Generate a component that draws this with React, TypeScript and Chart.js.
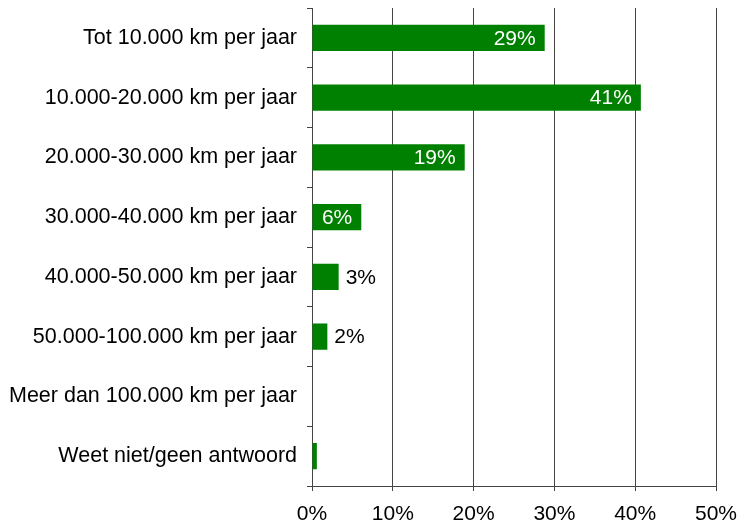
import React, { useEffect, useRef } from "react";
import { Chart, registerables } from "chart.js";

Chart.register(...registerables);

const categories = [
  "Tot 10.000 km per jaar",
  "10.000-20.000 km per jaar",
  "20.000-30.000 km per jaar",
  "30.000-40.000 km per jaar",
  "40.000-50.000 km per jaar",
  "50.000-100.000 km per jaar",
  "Meer dan 100.000 km per jaar",
  "Weet niet/geen antwoord",
];
const values = [28.8, 40.7, 18.9, 6.1, 3.3, 1.9, 0, 0.6];
const valueLabels = ["29%", "41%", "19%", "6%", "3%", "2%", "", ""];
const xTicks = [0, 10, 20, 30, 40, 50];

const FONT = "'Liberation Sans', Arial, Helvetica, sans-serif";

const labelPlugin = {
  id: "valueLabels",
  afterDatasetsDraw(chart: any) {
    const ctx = chart.ctx;
    const meta = chart.getDatasetMeta(0);
    ctx.save();
    ctx.font = `21px ${FONT}`;
    ctx.textBaseline = "middle";
    meta.data.forEach((bar: any, i: number) => {
      const txt = valueLabels[i];
      if (!txt) return;
      const v = values[i];
      if (v >= 5) {
        ctx.fillStyle = "#ffffff";
        ctx.textAlign = "right";
        ctx.fillText(txt, bar.x - 9, bar.y + 1);
      } else {
        ctx.fillStyle = "#000000";
        ctx.textAlign = "left";
        ctx.fillText(txt, bar.x + 7, bar.y + 1);
      }
    });
    ctx.restore();
  },
};

export default function App() {
  const ref = useRef<HTMLCanvasElement | null>(null);
  useEffect(() => {
    if (!ref.current) return;
    const chart = new Chart(ref.current, {
      type: "bar",
      data: {
        labels: categories,
        datasets: [
          {
            data: values,
            backgroundColor: "#008000",
            borderWidth: 0,
            barPercentage: 0.44,
            categoryPercentage: 1,
          },
        ],
      },
      options: {
        indexAxis: "y",
        animation: false,
        responsive: false,
        maintainAspectRatio: false,
        layout: { padding: { top: 8, right: 22, bottom: 0, left: 0 } },
        plugins: {
          legend: { display: false },
          tooltip: { enabled: false },
        },
        scales: {
          x: {
            min: 0,
            max: 50,
            afterBuildTicks: (s: any) => {
              s.ticks = xTicks.map((v) => ({ value: v }));
            },
            afterFit: (s: any) => {
              s.height = 40;
              s.paddingLeft = 0;
              s.paddingRight = 0;
            },
            ticks: {
              callback: (v: any) => v + "%",
              color: "#000",
              font: { family: FONT, size: 21 },
              padding: 11,
              maxRotation: 0,
            },
            grid: {
              color: "#444",
              lineWidth: 1,
              tickLength: 5,
              drawTicks: true,
            },
            border: { color: "#444", width: 1 },
          },
          y: {
            afterFit: (s: any) => {
              s.width = 312;
              s.paddingTop = 0;
              s.paddingBottom = 0;
            },
            ticks: {
              color: "#000",
              font: { family: FONT, size: 21.5 },
              padding: 10,
            },
            grid: {
              offset: true,
              drawOnChartArea: false,
              drawTicks: true,
              tickLength: 5,
              color: "#444",
            },
            border: { color: "#444", width: 1 },
          },
        },
      },
      plugins: [labelPlugin],
    });
    return () => chart.destroy();
  }, []);
  return (
    <div style={{ position: "fixed", left: 0, top: 0, width: 738, height: 526, background: "#fff" }}>
      <canvas ref={ref} width={738} height={526} />
    </div>
  );
}
